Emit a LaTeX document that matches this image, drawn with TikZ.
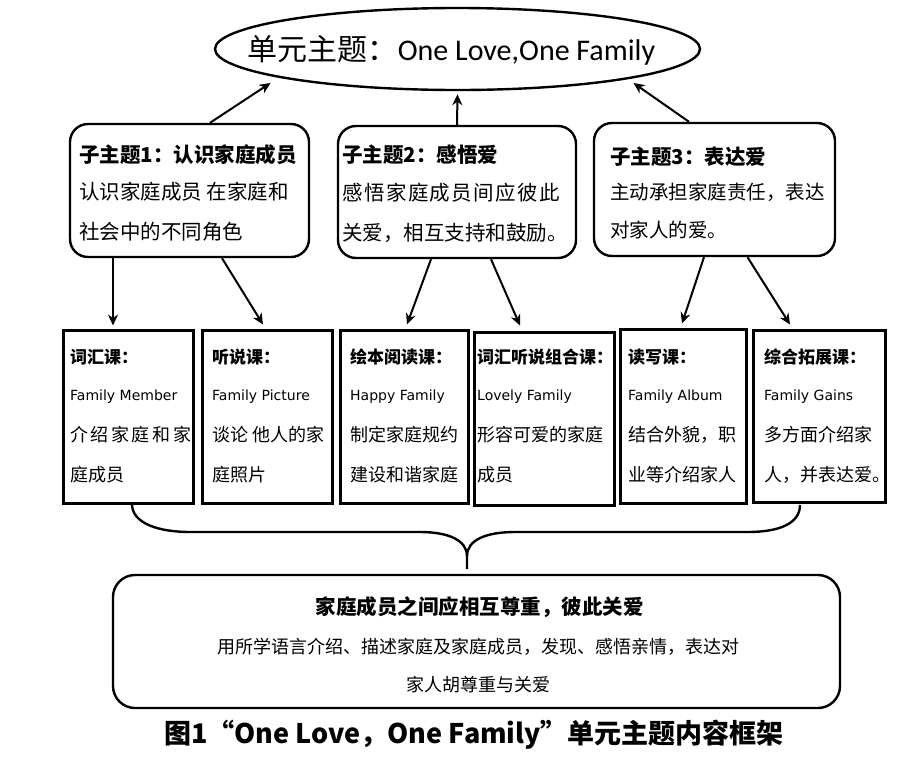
\documentclass[tikz,border=0pt]{standalone}
\usepackage{fontspec}
\setmainfont{Noto Sans CJK SC}
\newfontfamily\carl{Carlito}
\newfontfamily\dvs{DejaVu Sans}
\usetikzlibrary{shapes.geometric,arrows.meta}
\begin{document}
\begin{tikzpicture}[x=1pt,y=-1pt,
  ell/.style={draw,ellipse,line width=2.4pt,inner sep=0pt,minimum width=485pt,minimum height=82pt},
  subbox/.style={draw,line width=2.4pt,rounded corners=18pt,inner sep=0pt},
  lesbox/.style={draw,line width=3pt,inner sep=0pt},
  botbox/.style={draw,line width=2.4pt,rounded corners=22pt,inner sep=0pt},
  txt/.style={anchor=west,inner sep=0pt},
  ctxt/.style={anchor=center,inner sep=0pt},
  subtitle/.style={txt,font=\fontsize{20.5pt}{24pt}\selectfont\bfseries},
  subbody/.style={txt,font=\fontsize{20.5pt}{24pt}\selectfont},
  lestitle/.style={txt,font=\fontsize{17pt}{20pt}\selectfont\bfseries},
  lesen/.style={txt,font=\fontsize{14pt}{17pt}\selectfont\dvs},
  lescn/.style={txt,font=\fontsize{18pt}{21pt}\selectfont},
  arr/.style={line width=2pt,-{Stealth[length=11pt,width=10pt]}},
  bracestyle/.style={line width=2.4pt}]
\useasboundingbox (0,0) rectangle (924,777);
\fill[white] (0,0) rectangle (924,777);

% top ellipse
\node[ell] (el) at (457.5,49) {};
\node[ctxt,font=\fontsize{30pt}{34pt}\selectfont] (elt) at (451.5,50) {单元主题：{\carl One Love,One Family}};

% sub-topic boxes
\node[subbox,minimum width=239pt,minimum height=133pt] (s1) at (189.5,190.5) {};
\node[subbox,minimum width=238pt,minimum height=132pt] (s2) at (457,192) {};
\node[subbox,minimum width=241pt,minimum height=133pt] (s3) at (714.5,189.5) {};

\node[subtitle] (s1a) at (79,155) {子主题1：认识家庭成员};
\node[subbody] (s1b) at (79,192) {认识家庭成员\ 在家庭和};
\node[subbody] (s1c) at (79,232) {社会中的不同角色};

\node[subtitle] (s2a) at (342,155) {子主题2：感悟爱};
\node[subbody] (s2b) at (342,193) {\addfontfeature{LetterSpace=7}感悟家庭成员间应彼此};
\node[subbody] (s2c) at (342,233) {关爱，相互支持和鼓励。};

\node[subtitle] (s3a) at (610,157) {子主题3：表达爱};
\node[subbody,font=\fontsize{19.5pt}{23pt}\selectfont] (s3b) at (610,192) {主动承担家庭责任，表达};
\node[subbody,font=\fontsize{19.5pt}{23pt}\selectfont] (s3c) at (610,230) {对家人的爱。};

% lesson boxes
\node[lesbox,minimum width=130pt,minimum height=173pt] (L1) at (128,416.5) {};
\node[lesbox,minimum width=130pt,minimum height=173pt] (L2) at (267,416.5) {};
\node[lesbox,minimum width=128pt,minimum height=173pt] (L3) at (404,416.5) {};
\node[lesbox,minimum width=140pt,minimum height=173pt] (L4) at (544,418.5) {};
\node[lesbox,minimum width=126pt,minimum height=174pt] (L5) at (683,416) {};
\node[lesbox,minimum width=132pt,minimum height=172pt] (L6) at (819,416) {};

\node[lestitle] (L1a) at (70,357) {词汇课：};
\node[lesen] (L1b) at (70,397) {Family Member};
\node[lescn] (L1c) at (70,435) {介\hspace{2.6pt}绍\hspace{2.6pt}家\hspace{2.6pt}庭\hspace{2.6pt}和\hspace{2.6pt}家};
\node[lescn] (L1d) at (70,475) {庭成员};

\node[lestitle] (L2a) at (212,357) {听说课：};
\node[lesen] (L2b) at (212,397) {Family Picture};
\node[lescn] (L2c) at (212,435) {谈论\ 他人的家};
\node[lescn] (L2d) at (212,475) {庭照片};

\node[lestitle] (L3a) at (350,357) {绘本阅读课：};
\node[lesen] (L3b) at (350,397) {Happy Family};
\node[lescn] (L3c) at (350,435) {制定家庭规约};
\node[lescn] (L3d) at (350,475) {建设和谐家庭};

\node[lestitle] (L4a) at (477,357) {词汇听说组合课：};
\node[lesen] (L4b) at (477,397) {Lovely Family};
\node[lescn] (L4c) at (477,435) {形容可爱的家庭};
\node[lescn] (L4d) at (477,475) {成员};

\node[lestitle] (L5a) at (628,357) {读写课：};
\node[lesen] (L5b) at (628,397) {Family Album};
\node[lescn] (L5c) at (628,435) {结合外貌，职};
\node[lescn] (L5d) at (628,475) {业等介绍家人};

\node[lestitle] (L6a) at (764,357) {综合拓展课：};
\node[lesen] (L6b) at (764,397) {Family Gains};
\node[lescn] (L6c) at (764,435) {多方面介绍家};
\node[lescn] (L6d) at (764,475) {人，并表达爱。};

% bottom box
\node[botbox,minimum width=727pt,minimum height=133pt] (bot) at (476.5,641.5) {};
\node[ctxt,font=\fontsize{20.5pt}{24pt}\selectfont\bfseries] (bota) at (479.5,607) {家庭成员之间应相互尊重，彼此关爱};
\node[ctxt,font=\fontsize{18pt}{21pt}\selectfont] (botb) at (478,647) {用所学语言介绍、描述家庭及家庭成员，发现、感悟亲情，表达对};
\node[ctxt,font=\fontsize{18pt}{21pt}\selectfont] (botc) at (478,685) {家人胡尊重与关爱};

% caption
\node[ctxt,font=\fontsize{27pt}{31pt}\selectfont\bfseries] (cap) at (474,735) {图1“One Love，One Family”单元主题内容框架};

% arrows to ellipse
\draw[arr] ([xshift=20.5pt]s1.north) -- ([shift={(-187pt,-34pt)}]el.center);
\draw[arr] (s2.north) -- ([yshift=-3pt]el.south);
\draw[arr] ([xshift=-25.5pt]s3.north) -- ([shift={(176pt,-34pt)}]el.center);

% arrows to lesson boxes
\draw[arr] ([xshift=-76.5pt]s1.south) -- ([xshift=-15pt,yshift=3pt]L1.north);
\draw[arr] ([xshift=32.5pt]s1.south) -- ([xshift=-4pt,yshift=4pt]L2.north);
\draw[arr] ([xshift=-26pt]s2.south) -- ([xshift=3pt,yshift=4pt]L3.north);
\draw[arr] ([xshift=34pt]s2.south) -- ([xshift=-24pt,yshift=5pt]L4.north);
\draw[arr] ([xshift=-10.5pt]s3.south) -- ([xshift=-1pt,yshift=4pt]L5.north);
\draw[arr] ([xshift=33pt]s3.south) -- ([xshift=-29pt,yshift=4pt]L6.north);

% brace
\draw[bracestyle] (132,504) .. controls (132,524) and (160,532) .. (190,532) -- (420,532)
  .. controls (448,532) and (467,540) .. (467,556) -- (467,569);
\draw[bracestyle] (467,556) .. controls (467,540) and (486,532) .. (515,532) -- (748,532)
  .. controls (778,532) and (800,524) .. (800,505);
\end{tikzpicture}
\end{document}
